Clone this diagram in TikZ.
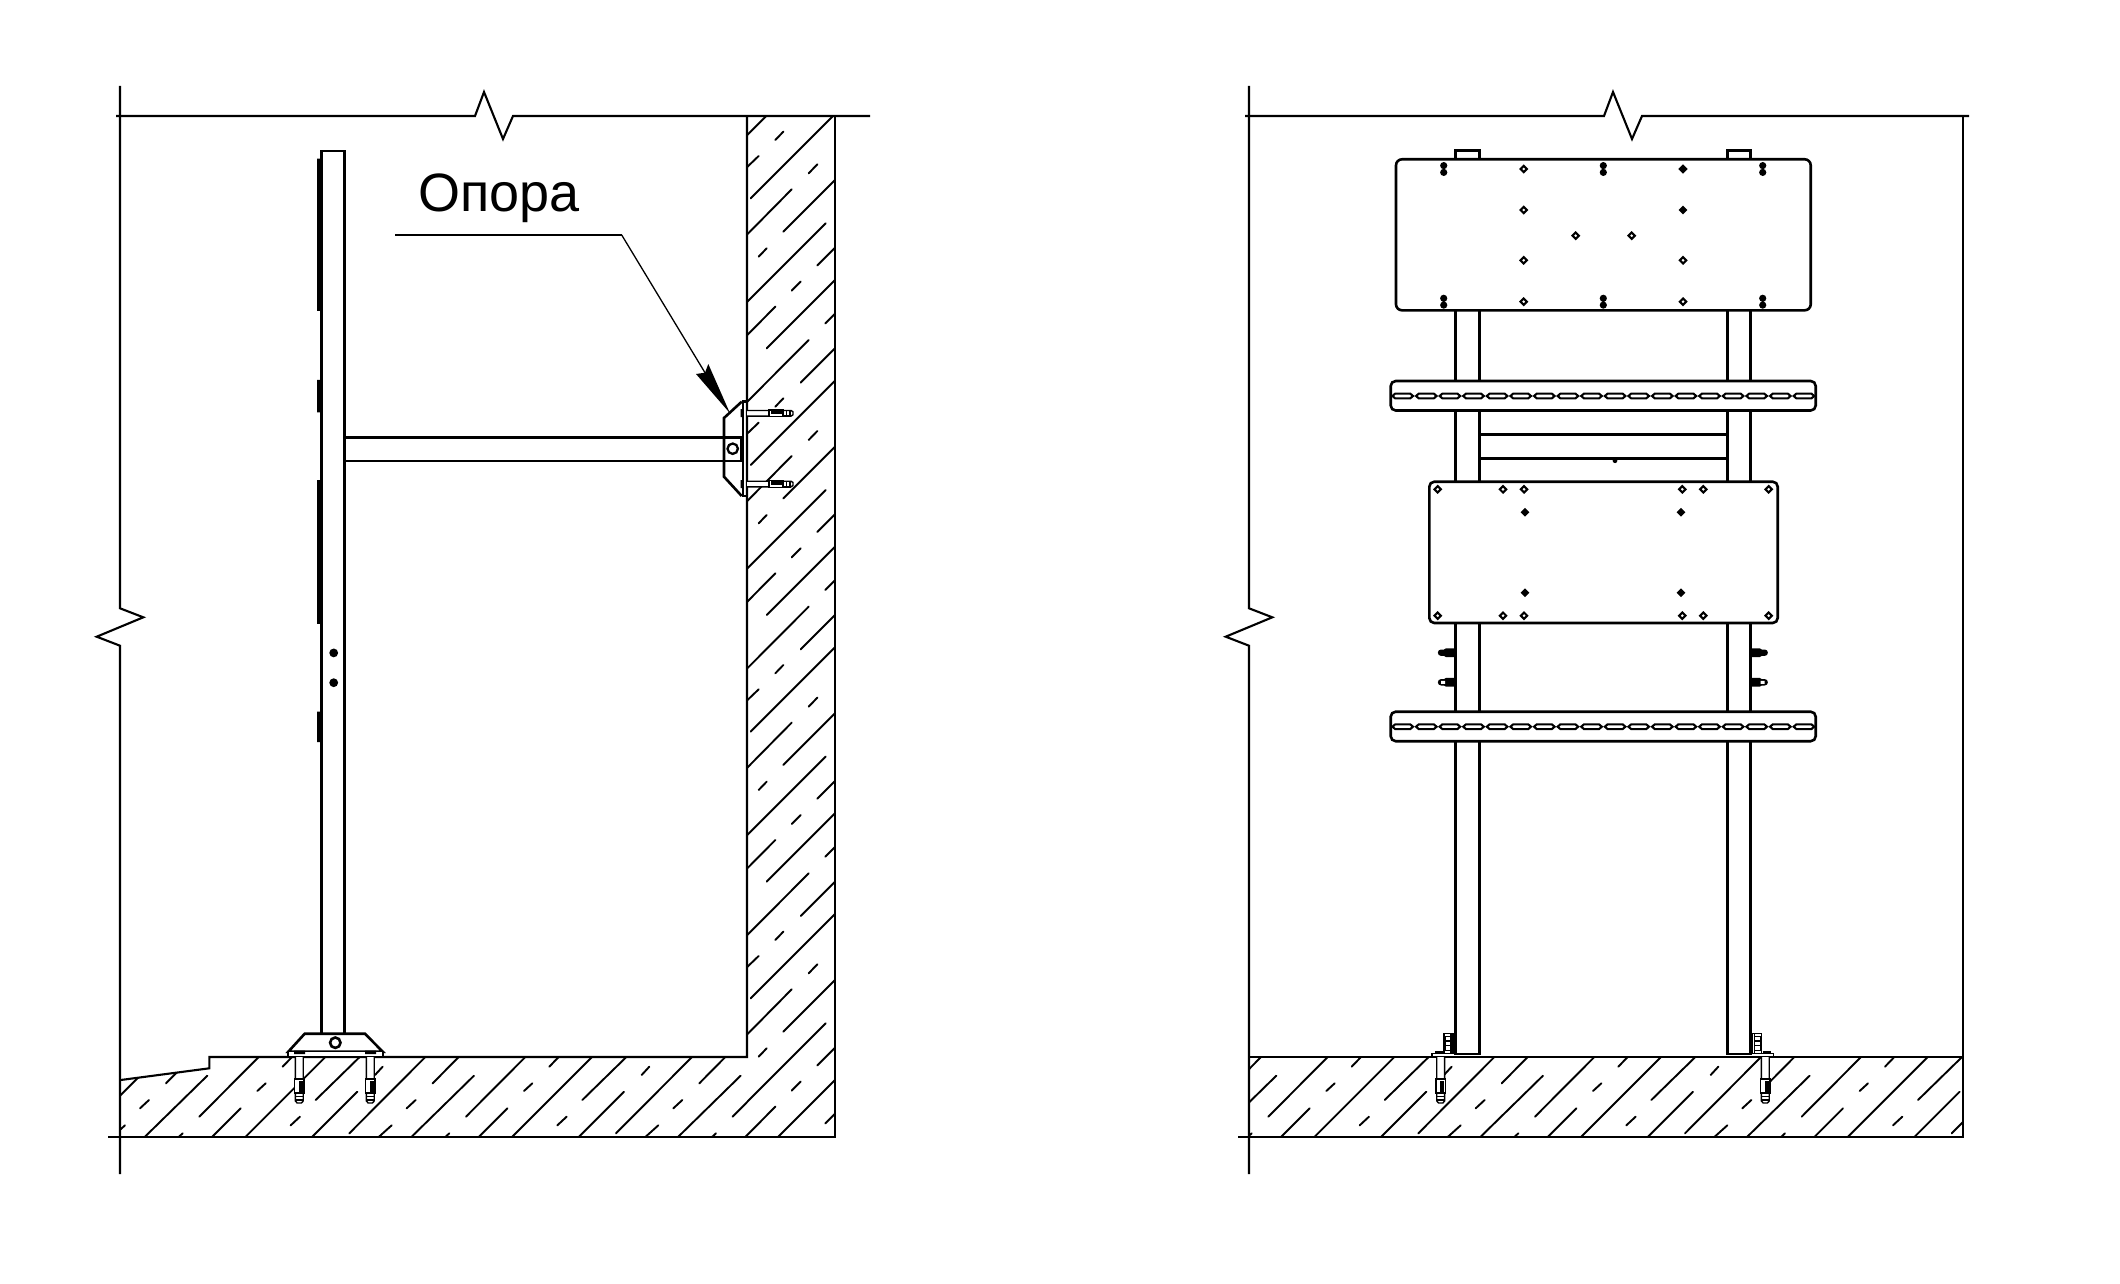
\documentclass[tikz,border=0pt]{standalone}
\usepackage{fontspec}
\setmainfont{Liberation Sans}
\tikzset{
  mainline/.style={line width=1.3pt,line join=miter,color=black},
  frameline/.style={line width=1.05pt,color=black},
  hatchline/.style={line width=0.95pt,color=black,line cap=round},
  detailline/.style={line width=0.7pt,color=black},
  anchorbolt/.pic={
    \draw[detailline,fill=white] (0,-2.8)--(44,-2.8)--(46,-1.5)--(46,1.5)--(44,2.8)--(0,2.8);
    \draw[detailline,fill=white] (22,-3.4) rectangle (36,3.4);
    \fill[black] (24,-2.6) rectangle (35,0.5);
    \draw[detailline] (36,-2.8) rectangle (43,2.8) (39.5,-2.8)--(39.5,2.8);
  },
  holeopen/.pic={\draw[line width=1.05pt,fill=white] (-3.2,0)--(0,-3.2)--(3.2,0)--(0,3.2)--cycle;},
  holefull/.pic={\draw[line width=0.8pt,fill=black] (-3.2,0)--(0,-3.2)--(3.2,0)--(0,3.2)--cycle;},
  holepair/.pic={\fill[black] (0,-3.4) circle[radius=1.8pt] (0,3.4) circle[radius=1.8pt];},
  slothole/.pic={\draw[line width=1.05pt,fill=white] (-10.3,0)--(-7.5,-2.4)--(7.5,-2.4)--(10.3,0)--(7.5,2.4)--(-7.5,2.4)--cycle;},
  sidebolt/.pic={
    \fill[black] (0,-4.4)--(9,-4.4)--(11,-3.2)--(14,-3.2) arc[start angle=90,end angle=-90,radius=1.6pt]--(11,3.2)--(9,4.4)--(0,4.4)--cycle;
  },
  footangle/.pic={
    \draw[detailline,fill=white] (2,-20) rectangle (11,0);
    \draw[detailline,fill=white] (4,-17) rectangle (10,-3) (4,-12.5)--(10,-12.5) (4,-8)--(10,-8);
    \draw[detailline] (4,-20)--(4,0);
    \draw[detailline,fill=white] (1,0)--(23,0)--(23,3)--(1,3);
    \fill[black] (12,-2.5) rectangle (20,0);
  },
}
\newcommand{\floormotif}{%
  \draw[hatchline] (163,412)--(352,227) (365,412)--(452,325) (265,412)--(278,400)
    (228,250)--(305,172) (328,350)--(505,172) (150,325)--(177,300) (502,273)--(527,250)
    (465,412)--(705,172) (578,200)--(605,172) (602,376)--(630,350) (665,412)--(802,275)
    (677,300)--(808,172) (778,400)--(1005,172) (855,225)--(878,200) (865,412)--(905,376);}
\newcommand{\wallmotif}{%
  \draw[hatchline] (106,90)--(130,65) (10,182)--(56,138) (206,190)--(232,163)
    (32,265)--(290,7) (10,385)--(155,238) (130,365)--(290,205) (56,440)--(80,415)
    (232,466)--(290,408) (10,587)--(257,340) (155,542)--(182,515) (10,687)--(106,590)
    (80,715)--(290,505) (256,640)--(290,606) (182,818)--(290,710) (10,887)--(206,690);}
\newcommand{\breakframe}{%
  \draw[frameline] (120,86)--(120,608.3)--(143.3,617.3)--(96.7,636.7)--(120,645.7)--(120,1174);
}
\begin{document}
\begin{tikzpicture}[x=0.5pt,y=-0.5pt]
\useasboundingbox (0,0) rectangle (2120,1284);
\fill[white] (0,0) rectangle (2120,1284);

% ---------- hatching, left view ----------
\begin{scope}
  \clip (120,1080)--(209.3,1068.3)--(209.3,1057)--(747,1057)--(747,1137)--(120,1137)--cycle;
  \foreach \k in {-800,0,800,1600}{
    \begin{scope}[shift={(90,1000)},scale=1/3,shift={(\k,0)}]\floormotif\end{scope}}
\end{scope}
\begin{scope}
  \clip (747,116) rectangle (835,1137);
  \foreach \k in {-800,0,800,1600,2400,3200}{
    \begin{scope}[shift={(740,110)},scale=1/3,shift={(0,\k)}]\wallmotif\end{scope}}
\end{scope}

% ---------- left view: frame ----------
\breakframe
\draw[frameline] (116,116)--(475,116)--(484,92)--(503,139)--(513,116)--(870,116);
\draw[frameline] (108,1137)--(835,1137)--(835,116);
\draw[frameline] (120.7,1080)--(209.3,1068.3)--(209.3,1057)--(747,1057)--(747,116);

% post
\draw[mainline] (321.7,1033)--(321.7,151.2)--(344.3,151.2)--(344.3,1033);
\fill[black] (317,158.6) rectangle (322,310.8) (317,379.8) rectangle (322,412.4)
             (317,480.2) rectangle (322,623.9) (317,711.6) rectangle (322,742.2);
\fill[black] (333.7,652.9) circle[radius=2.2pt] (333.7,682.7) circle[radius=2.2pt];

% arm
\draw[mainline] (344.3,437.3)--(741,437.3)--(741,461)--(344.3,461);

% wall anchors and bracket
\pic at (747,413.3) {anchorbolt};
\pic at (747,484) {anchorbolt};
\draw[mainline] (741.7,401.7)--(724,418)--(724,476.7)--(741.7,496);
\draw[mainline] (741.7,401.7)--(747,401.7) (741.7,496)--(747,496);
\draw[mainline] (743,401.7)--(743,496);
\draw[line width=1.15pt,fill=white] (732.7,448.7) circle[radius=2.6pt];
\fill[black] (740.5,409) rectangle (743.5,417) (740.5,480) rectangle (743.5,488);

% base and floor anchors
\pic[rotate=-90,yscale=1.4] at (299.3,1057) {anchorbolt};
\pic[rotate=-90,yscale=1.4] at (370.3,1057) {anchorbolt};
\draw[mainline,fill=white] (288.3,1051.7)--(304.7,1033.7)--(365,1033.7)--(382.7,1051.7)--cycle;
\draw[detailline,fill=white] (288,1051.7) rectangle (383,1056.5);
\fill[black] (294,1050.5) rectangle (305,1054) (365,1050.5) rectangle (376,1054);
\draw[line width=1.3pt,fill=white] (335.3,1042.7) circle[radius=2.6pt];

% leader and label
\node[anchor=base west,inner sep=0pt,font=\fontsize{27pt}{30pt}\selectfont] (oporalabel) at (418,211) {Опора};
\coordinate (leaderstart) at (395,235);
\coordinate (leaderbend) at (621.7,235);
\coordinate (leadertip) at (730,413.3);
\draw[line width=0.85pt] (leaderstart)--(leaderbend);
\draw[line width=0.65pt] (leaderbend)--(705,372.7);
\fill[black] (leadertip)--(708.3,364)--(705,372.7)--(696,374)--cycle;

% ---------- hatching, right view ----------
\begin{scope}
  \clip (1249,1057) rectangle (1963,1137);
  \foreach \k in {-800,0,800,1600,2400}{
    \begin{scope}[shift={(1159,1000)},scale=1/3,shift={(\k,0)}]\floormotif\end{scope}}
\end{scope}

% ---------- right view: frame ----------
\begin{scope}[shift={(1129,0)}]\breakframe\end{scope}
\draw[frameline] (1245,116)--(1604,116)--(1613,92)--(1632,139)--(1642,116)--(1969,116);
\draw[frameline] (1238,1137)--(1963,1137)--(1963,116);
\draw[frameline] (1249,1057)--(1963,1057);

% posts
\draw[mainline] (1455.3,1054)--(1455.3,150.7)--(1479.3,150.7)--(1479.3,1054)--cycle;
\draw[mainline] (1727.3,1054)--(1727.3,150.7)--(1750.5,150.7)--(1750.5,1054)--cycle;
\draw[mainline] (1479.3,434.3)--(1727.3,434.3) (1479.3,458.3)--(1727.3,458.3);
\fill[black] (1615,460.7) circle[radius=1.2pt];

% side bolts
\pic[xscale=-1] at (1455,652.7) {sidebolt};
\pic[xscale=-1] at (1455,682.3) {sidebolt};
\pic at (1750.7,652.7) {sidebolt};
\pic at (1750.7,682.3) {sidebolt};
\fill[white] (1441,680.8) rectangle (1445,683.8) (1760.7,680.8) rectangle (1764.7,683.8);

% feet
\pic[rotate=-90,yscale=1.4] at (1440.7,1057) {anchorbolt};
\pic[rotate=-90,yscale=1.4] at (1765.3,1057) {anchorbolt};
\pic[xscale=-1] at (1455,1053.5) {footangle};
\pic at (1750.7,1053.5) {footangle};

% upper panel
\draw[mainline,fill=white,rounded corners=3pt] (1396,159.3) rectangle (1810.7,310.3);
\foreach \px in {1443.7,1603.3,1762.7}\foreach \py in {169,301.7}{\pic at (\px,\py) {holepair};}
\foreach \py in {169,301.7}{\pic at (1523.7,\py) {holeopen};\pic at (1683,\py) {holeopen};}
\pic at (1523.7,210) {holeopen};
\pic at (1683,169) {holefull};
\pic at (1683,210) {holefull};
\pic at (1523.7,260.3) {holeopen};
\pic at (1683,260.3) {holeopen};
\pic at (1575.7,235.7) {holeopen};
\pic at (1631.7,235.7) {holeopen};

% straps
\foreach \sy in {396,726.7}{
  \draw[mainline,fill=white,rounded corners=2.5pt] (1390.7,\sy-15) rectangle (1815.7,\sy+14.5);
  \foreach \i in {0,...,17}{\pic at ({1402.7+\i*23.6},\sy) {slothole};}
}

% middle panel
\draw[mainline,fill=white,rounded corners=2.5pt] (1429.3,481.7) rectangle (1777.7,623);
\foreach \px in {1437.7,1503,1524,1682.3,1703.3,1768.7}\foreach \py in {489.3,615.7}{\pic at (\px,\py) {holeopen};}
\foreach \px in {1525,1681}\foreach \py in {512.3,592.7}{\pic at (\px,\py) {holefull};}
\end{tikzpicture}
\end{document}
